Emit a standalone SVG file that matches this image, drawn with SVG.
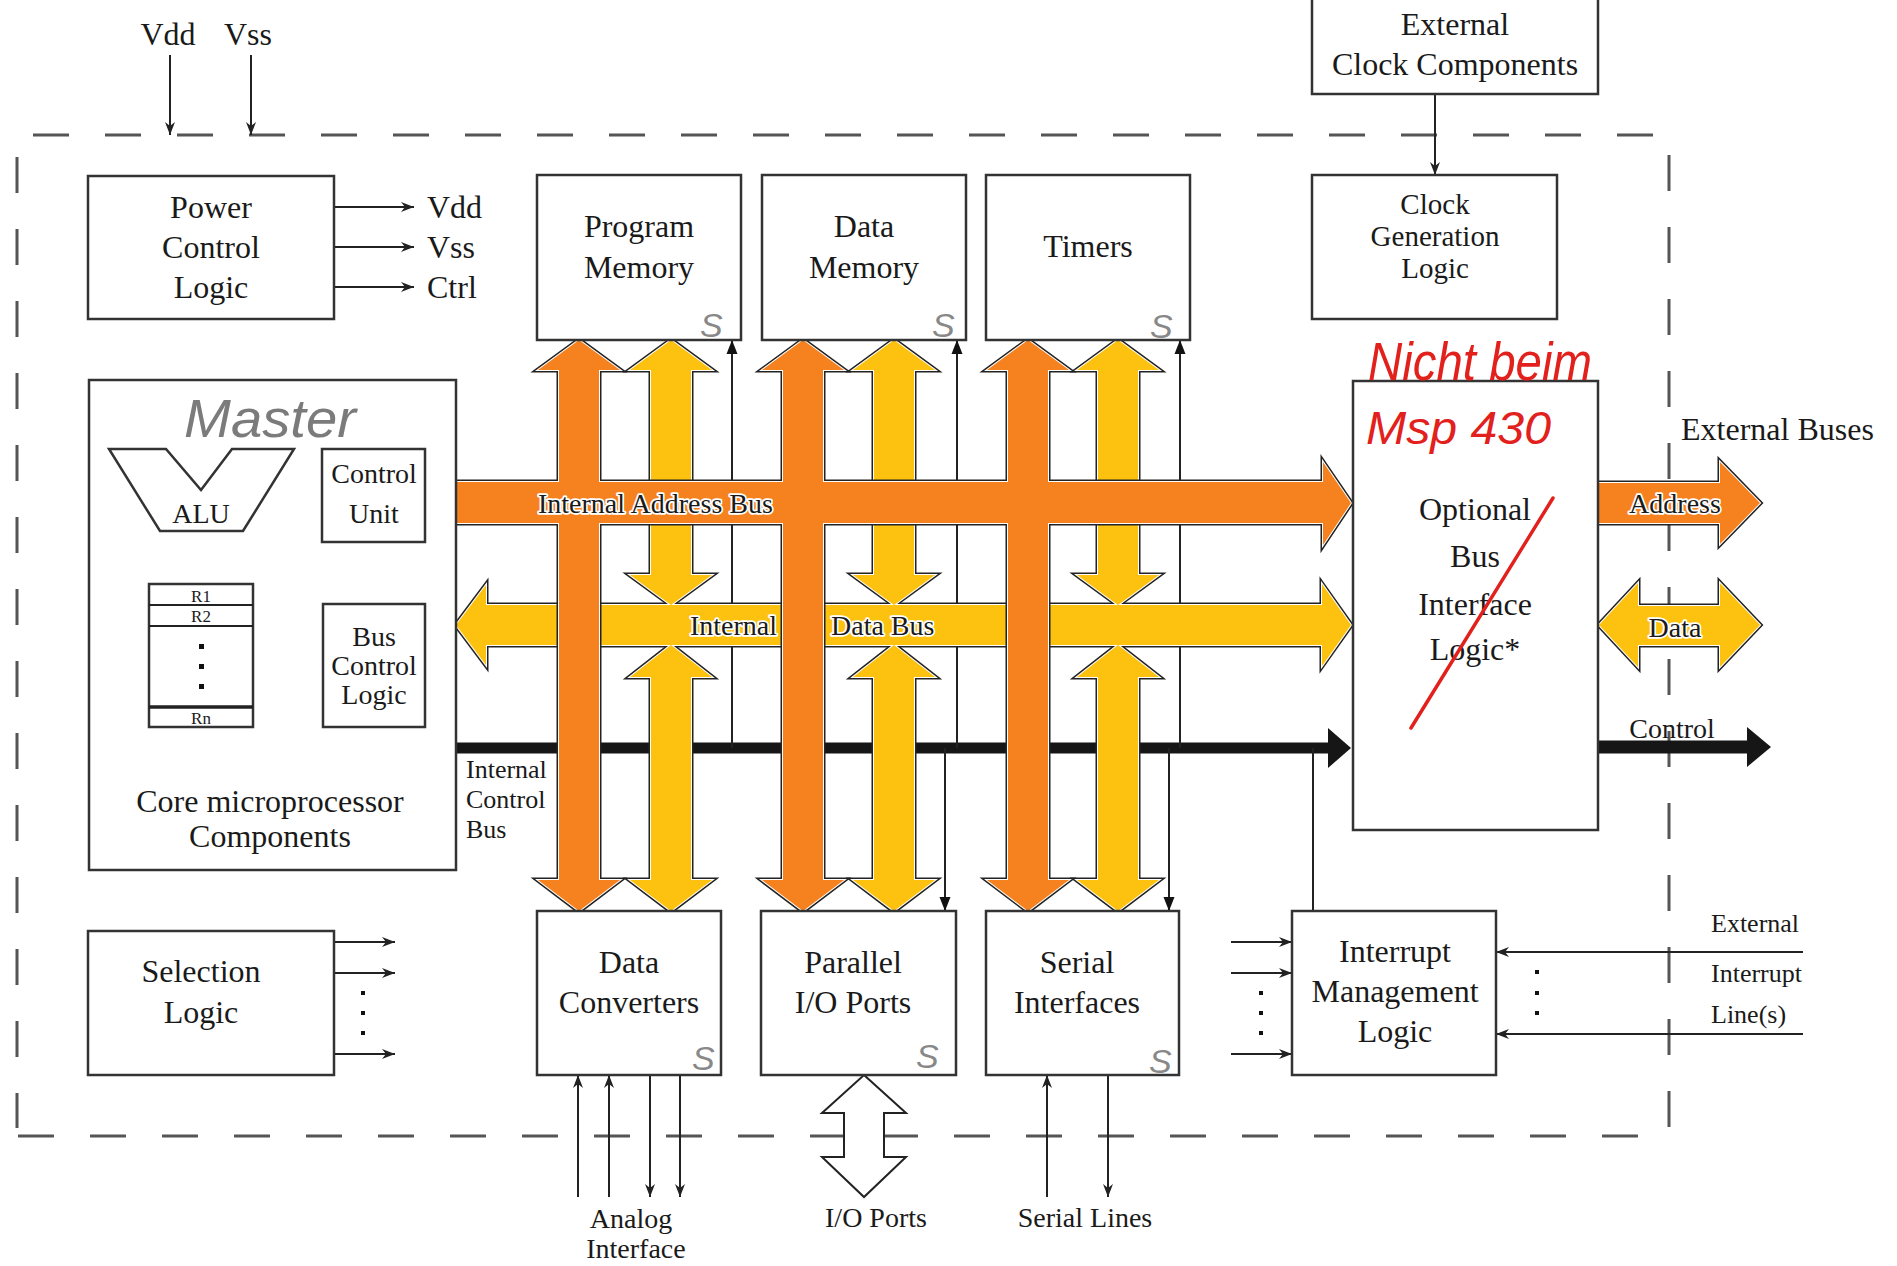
<svg xmlns="http://www.w3.org/2000/svg" xmlns:xlink="http://www.w3.org/1999/xlink" width="1897" height="1266" viewBox="0 0 1897 1266">
<style>
.box{fill:#fff;stroke:#333;stroke-width:2.5}
.t{font-family:"Liberation Serif",serif;fill:#1a1a1a;text-anchor:middle}
.s32{font-size:32px}.s29{font-size:29px}.s28{font-size:28px}.s26{font-size:26px}.s17{font-size:17px}
.l{text-anchor:start}
.halo{paint-order:stroke;stroke:#fff;stroke-width:3.5px;stroke-linejoin:round}
.ln{stroke:#222;stroke-width:2;fill:none}
.dash{stroke:#555;stroke-width:3;fill:none;stroke-dasharray:36 36}
.hand{font-family:"Liberation Sans",sans-serif;font-style:italic}
.gs{fill:#888;font-size:34px}
</style>
<defs>
<marker id="ah" viewBox="-14 -6 15 12" refX="0" refY="0" markerWidth="15" markerHeight="12" markerUnits="userSpaceOnUse" orient="auto"><path d="M0,0 L-13,-5 L-9,0 L-13,5 z" fill="#222"/></marker>
<marker id="tri" viewBox="-15 -7 16 14" refX="0" refY="0" markerWidth="16" markerHeight="14" markerUnits="userSpaceOnUse" orient="auto"><path d="M0,0 L-14,-5.5 L-14,5.5 z" fill="#111"/></marker>
<g id="yel">
<polygon points="671,340 712,370 691,370 691,575 712,575 671,605 630,575 651,575 651,370 630,370"/>
<polygon points="894,340 935,370 914,370 914,575 935,575 894,605 853,575 874,575 874,370 853,370"/>
<polygon points="1118,340 1159,370 1138,370 1138,575 1159,575 1118,605 1077,575 1098,575 1098,370 1077,370"/>
<polygon points="671,645 712,677 691,677 691,880 712,880 671,911 630,880 651,880 651,677 630,677"/>
<polygon points="894,645 935,677 914,677 914,880 935,880 894,911 853,880 874,880 874,677 853,677"/>
<polygon points="1118,645 1159,677 1138,677 1138,880 1159,880 1118,911 1077,880 1098,880 1098,677 1077,677"/>
<polygon points="456,625 486,585 486,605 1322,605 1322,584 1351,625 1322,666 1322,645 486,645 486,665"/>
<polygon points="1599,625 1638,583 1638,606 1720,606 1720,583 1760,625 1720,667 1720,645 1638,645 1638,667"/>
</g>
<g id="org">
<polygon points="579,340 620,370 599,370 599,880 620,880 579,911 538,880 559,880 559,370 538,370"/>
<polygon points="803,340 844,370 823,370 823,880 844,880 803,911 762,880 783,880 783,370 762,370"/>
<polygon points="1028,340 1069,370 1048,370 1048,880 1069,880 1028,911 987,880 1008,880 1008,370 987,370"/>
<polygon points="456,482 1323,482 1323,462 1351,503 1323,545 1323,523 456,523"/>
<polygon points="1598,483 1720,483 1720,462 1760,503 1720,544 1720,523 1598,523"/>
</g>
</defs>
<rect width="1897" height="1266" fill="#fff"/>

<g id="boundary">
<path class="dash" d="M33,135 H1654"/>
<path class="dash" d="M17,157 V1128"/>
<path class="dash" d="M18,1136 H1639"/>
<path class="dash" d="M1669,155 V1130"/>
</g>

<g id="connectors">
<line class="ln" x1="170" y1="55" x2="170" y2="135" marker-end="url(#ah)"/>
<line class="ln" x1="251" y1="55" x2="251" y2="135" marker-end="url(#ah)"/>
<line class="ln" x1="334" y1="207" x2="414" y2="207" marker-end="url(#ah)"/>
<line class="ln" x1="334" y1="247" x2="414" y2="247" marker-end="url(#ah)"/>
<line class="ln" x1="334" y1="287" x2="414" y2="287" marker-end="url(#ah)"/>
<line class="ln" x1="1435" y1="94" x2="1435" y2="175" marker-end="url(#ah)"/>
<line class="ln" x1="334" y1="942" x2="395" y2="942" marker-end="url(#ah)"/>
<line class="ln" x1="334" y1="973" x2="395" y2="973" marker-end="url(#ah)"/>
<line class="ln" x1="334" y1="1054" x2="395" y2="1054" marker-end="url(#ah)"/>
<g fill="#111"><rect x="361" y="991" width="4" height="4"/><rect x="361" y="1011" width="4" height="4"/><rect x="361" y="1031" width="4" height="4"/></g>
<line class="ln" x1="1231" y1="942" x2="1292" y2="942" marker-end="url(#ah)"/>
<line class="ln" x1="1231" y1="973" x2="1292" y2="973" marker-end="url(#ah)"/>
<line class="ln" x1="1231" y1="1054" x2="1292" y2="1054" marker-end="url(#ah)"/>
<g fill="#111"><rect x="1259" y="991" width="4" height="4"/><rect x="1259" y="1011" width="4" height="4"/><rect x="1259" y="1031" width="4" height="4"/></g>
<line class="ln" x1="1803" y1="952" x2="1496" y2="952" marker-end="url(#ah)"/>
<line class="ln" x1="1803" y1="1034" x2="1496" y2="1034" marker-end="url(#ah)"/>
<g fill="#111"><rect x="1535" y="970" width="4" height="4"/><rect x="1535" y="991" width="4" height="4"/><rect x="1535" y="1011" width="4" height="4"/></g>
<line class="ln" x1="578" y1="1197" x2="578" y2="1075" marker-end="url(#ah)"/>
<line class="ln" x1="609" y1="1197" x2="609" y2="1075" marker-end="url(#ah)"/>
<line class="ln" x1="650" y1="1075" x2="650" y2="1197" marker-end="url(#ah)"/>
<line class="ln" x1="680" y1="1075" x2="680" y2="1197" marker-end="url(#ah)"/>
<line class="ln" x1="1047" y1="1197" x2="1047" y2="1075" marker-end="url(#ah)"/>
<line class="ln" x1="1108" y1="1075" x2="1108" y2="1197" marker-end="url(#ah)"/>
<polygon points="864,1075 906,1113 884,1113 884,1157 906,1157 864,1197 822,1157 844,1157 844,1113 822,1113" fill="#fff" stroke="#222" stroke-width="2"/>

<line x1="456" y1="748" x2="1330" y2="748" stroke="#161616" stroke-width="11"/>
<polygon points="1328,728 1351,748 1328,768" fill="#161616"/>
<line x1="1598" y1="747" x2="1750" y2="747" stroke="#161616" stroke-width="13"/>
<polygon points="1747,727 1771,747 1747,767" fill="#161616"/>
<line class="ln" x1="732" y1="748" x2="732" y2="340" marker-end="url(#tri)"/>
<line class="ln" x1="957" y1="748" x2="957" y2="340" marker-end="url(#tri)"/>
<line class="ln" x1="1180" y1="748" x2="1180" y2="340" marker-end="url(#tri)"/>
<line class="ln" x1="945" y1="748" x2="945" y2="911" marker-end="url(#tri)"/>
<line class="ln" x1="1169" y1="748" x2="1169" y2="911" marker-end="url(#tri)"/>
<line class="ln" x1="1313" y1="748" x2="1313" y2="911"/>

<use xlink:href="#yel" href="#yel" fill="none" stroke="#222" stroke-width="5" stroke-linejoin="miter"/>
<use xlink:href="#yel" href="#yel" fill="none" stroke="#fff" stroke-width="2"/>
<use xlink:href="#yel" href="#yel" fill="#FCC20F" stroke="none"/>
<use xlink:href="#org" href="#org" fill="none" stroke="#222" stroke-width="5" stroke-linejoin="miter"/>
<use xlink:href="#org" href="#org" fill="none" stroke="#fff" stroke-width="2"/>
<use xlink:href="#org" href="#org" fill="#F6821F" stroke="none"/>

<text class="t s28 l halo" x="538" y="513">Internal Address Bus</text>
<text class="t s28 l halo" x="690" y="635">Internal</text>
<text class="t s28 l halo" x="831" y="635">Data Bus</text>
<text class="t s28 halo" x="1675" y="513">Address</text>
<text class="t s28 halo" x="1675" y="637">Data</text>
<text class="t s28" x="1672" y="738">Control</text>
<text class="t s26 l" x="466" y="778">Internal</text>
<text class="t s26 l" x="466" y="808">Control</text>
<text class="t s26 l" x="466" y="838">Bus</text>
</g>

<g id="labels">
<text class="t s32" x="168" y="45">Vdd</text>
<text class="t s32" x="248" y="45">Vss</text>
<text class="t s32 l" x="427" y="218">Vdd</text>
<text class="t s32 l" x="427" y="258">Vss</text>
<text class="t s32 l" x="427" y="298">Ctrl</text>
<text class="t s32 l" x="1681" y="440">External Buses</text>
<text class="t s26 l" x="1711" y="932">External</text>
<text class="t s26 l" x="1711" y="982">Interrupt</text>
<text class="t s26 l" x="1711" y="1023">Line(s)</text>
<text class="t s28" x="631" y="1228">Analog</text>
<text class="t s28" x="636" y="1258">Interface</text>
<text class="t s28" x="876" y="1227">I/O Ports</text>
<text class="t s28" x="1085" y="1227">Serial Lines</text>
</g>

<g id="power-control">
<rect class="box" x="88" y="176" width="246" height="143"/>
<text class="t s32" x="211" y="218">Power</text>
<text class="t s32" x="211" y="258">Control</text>
<text class="t s32" x="211" y="298">Logic</text>
</g>

<g id="program-memory">
<rect class="box" x="537" y="175" width="204" height="165"/>
<text class="t s32" x="639" y="237">Program</text>
<text class="t s32" x="639" y="278">Memory</text>
</g>
<g id="data-memory">
<rect class="box" x="762" y="175" width="204" height="165"/>
<text class="t s32" x="864" y="237">Data</text>
<text class="t s32" x="864" y="278">Memory</text>
</g>
<g id="timers">
<rect class="box" x="986" y="175" width="204" height="165"/>
<text class="t s32" x="1088" y="257">Timers</text>
</g>

<g id="external-clock">
<rect class="box" x="1312" y="-3" width="286" height="97"/>
<text class="t s32" x="1455" y="35">External</text>
<text class="t s32" x="1455" y="75">Clock Components</text>
</g>
<g id="clock-generation">
<rect class="box" x="1312" y="175" width="245" height="144"/>
<text class="t s29" x="1435" y="214">Clock</text>
<text class="t s29" x="1435" y="246">Generation</text>
<text class="t s29" x="1435" y="278">Logic</text>
</g>

<g id="core">
<rect class="box" x="89" y="380" width="367" height="490"/>
<polygon points="109,449 166,449 201,490 232,449 294,449 243,531 160,531" fill="#fff" stroke="#333" stroke-width="2.5"/>
<text class="t s28" x="201" y="523">ALU</text>
<rect class="box" x="322" y="449" width="103" height="93"/>
<text class="t s28" x="374" y="483">Control</text>
<text class="t s28" x="374" y="523">Unit</text>
<rect class="box" x="149" y="584" width="104" height="143"/>
<line class="ln" x1="149" y1="605" x2="253" y2="605"/>
<line class="ln" x1="149" y1="626" x2="253" y2="626"/>
<line x1="149" y1="707" x2="253" y2="707" stroke="#222" stroke-width="3.5"/>
<text class="t s17" x="201" y="602">R1</text>
<text class="t s17" x="201" y="622">R2</text>
<text class="t s17" x="201" y="724">Rn</text>
<g fill="#111"><rect x="199" y="644" width="5" height="5"/><rect x="199" y="664" width="5" height="5"/><rect x="199" y="684" width="5" height="5"/></g>
<rect class="box" x="323" y="604" width="102" height="123"/>
<text class="t s28" x="374" y="646">Bus</text>
<text class="t s28" x="374" y="675">Control</text>
<text class="t s28" x="374" y="704">Logic</text>
<text class="t s32" x="270" y="812">Core microprocessor</text>
<text class="t s32" x="270" y="847">Components</text>
</g>

<g id="optional-bus-interface">
<rect class="box" x="1353" y="381" width="245" height="449"/>
<text class="t s32" x="1475" y="520">Optional</text>
<text class="t s32" x="1475" y="567">Bus</text>
<text class="t s32" x="1475" y="615">Interface</text>
<text class="t s32" x="1475" y="660">Logic*</text>
</g>

<g id="selection-logic">
<rect class="box" x="88" y="931" width="246" height="144"/>
<text class="t s32" x="201" y="982">Selection</text>
<text class="t s32" x="201" y="1023">Logic</text>
</g>
<g id="data-converters">
<rect class="box" x="537" y="911" width="184" height="164"/>
<text class="t s32" x="629" y="973">Data</text>
<text class="t s32" x="629" y="1013">Converters</text>
</g>
<g id="parallel-io">
<rect class="box" x="761" y="911" width="195" height="164"/>
<text class="t s32" x="853" y="973">Parallel</text>
<text class="t s32" x="853" y="1013">I/O Ports</text>
</g>
<g id="serial-interfaces">
<rect class="box" x="986" y="911" width="193" height="164"/>
<text class="t s32" x="1077" y="973">Serial</text>
<text class="t s32" x="1077" y="1013">Interfaces</text>
</g>
<g id="interrupt-management">
<rect class="box" x="1292" y="911" width="204" height="164"/>
<text class="t s32" x="1395" y="962">Interrupt</text>
<text class="t s32" x="1395" y="1002">Management</text>
<text class="t s32" x="1395" y="1042">Logic</text>
</g>

<g id="annotations">
<text class="hand" x="184" y="437" font-size="54" fill="#7b7b7b" textLength="172" lengthAdjust="spacingAndGlyphs">Master</text>
<text class="hand gs" x="700" y="337">S</text>
<text class="hand gs" x="932" y="337">S</text>
<text class="hand gs" x="1150" y="338">S</text>
<text class="hand gs" x="692" y="1070">S</text>
<text class="hand gs" x="916" y="1068">S</text>
<text class="hand gs" x="1149" y="1073">S</text>
<text class="hand" x="1368" y="380" font-size="54" fill="#e2201c" textLength="224" lengthAdjust="spacingAndGlyphs">Nicht beim</text>
<text class="hand" x="1366" y="444" font-size="46" fill="#e2201c" textLength="185" lengthAdjust="spacingAndGlyphs">Msp 430</text>
<line x1="1553" y1="498" x2="1411" y2="728" stroke="#e2201c" stroke-width="3.5" stroke-linecap="round"/>
</g>
</svg>
